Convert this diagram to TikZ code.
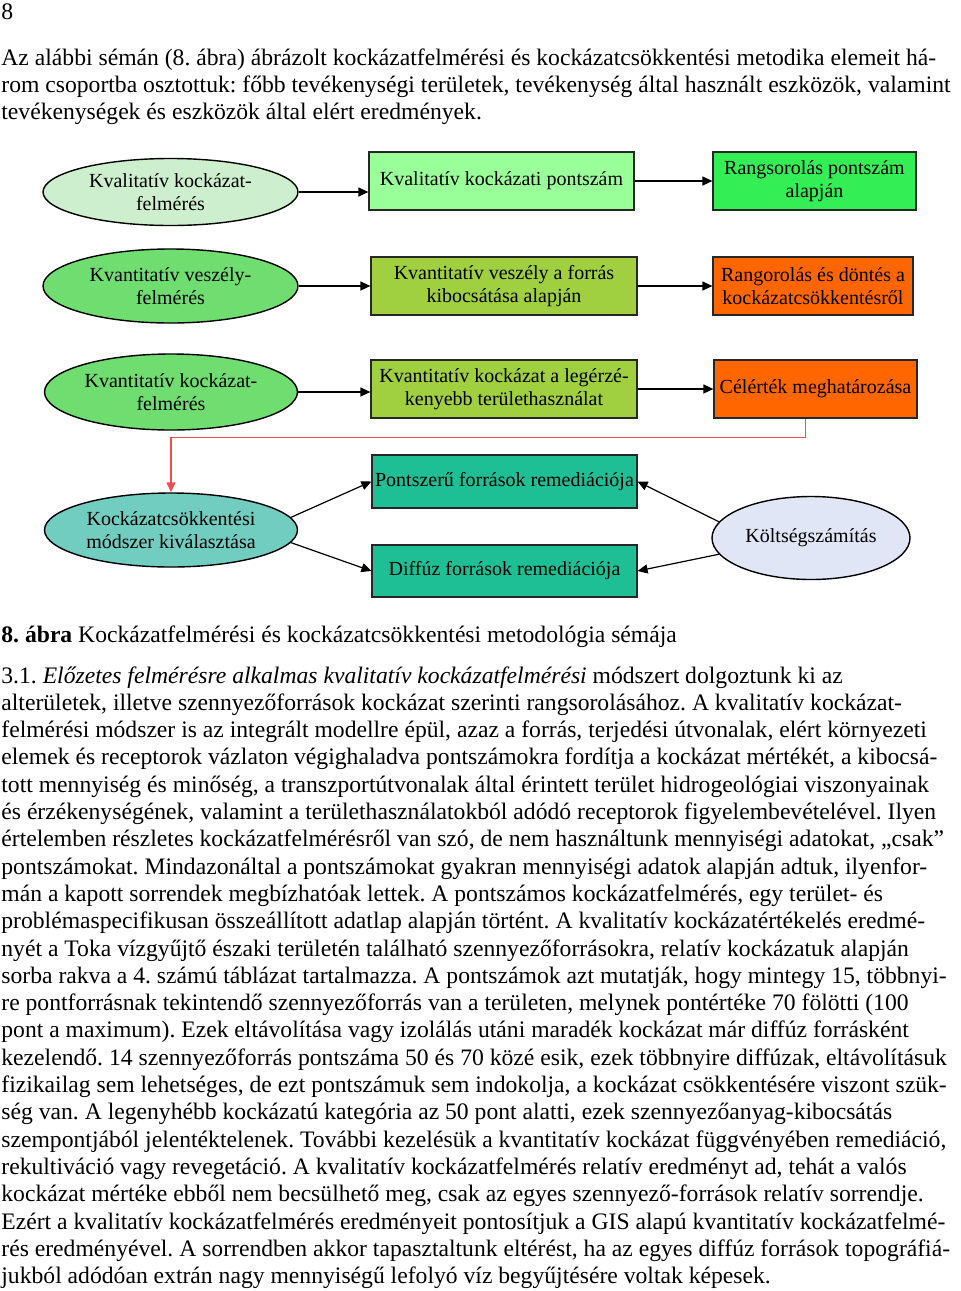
\documentclass[tikz,border=0pt]{standalone}
\usepackage{fontspec}
\setmainfont{Liberation Serif}
\usetikzlibrary{arrows.meta,shapes.geometric}
\newcommand\diagfont{\fontsize{10}{11.5}\selectfont}
\newcommand\bodyfont{\fontsize{11.82}{13.65}\selectfont\frenchspacing}
\definecolor{paleg}{HTML}{CDEFCD}
\definecolor{stripeg}{HTML}{70DD70}
\definecolor{lightg}{HTML}{99FF99}
\definecolor{brightg}{HTML}{33EE55}
\definecolor{yellowg}{HTML}{A0D040}
\definecolor{orng}{HTML}{FF6600}
\definecolor{tealb}{HTML}{1FBF95}
\definecolor{tealdot}{HTML}{70CDBF}
\definecolor{bluestripe}{HTML}{E0E6F5}
\definecolor{redline}{HTML}{F05050}
\begin{document}
\begin{tikzpicture}[x=0.5pt,y=-0.5pt,
  bx/.style={draw=black!85, line width=0.6pt, rectangle, minimum height=29pt, inner sep=1pt, align=center, font=\diagfont},
  el/.style={draw=black, line width=0.7pt, ellipse, inner sep=0pt, align=center, font=\diagfont},
  arr/.style={-{Triangle[length=5pt,width=4.5pt]}, line width=0.6pt},
  redarr/.style={-{Triangle[length=5pt,width=4.5pt]}, line width=0.7pt, draw=redline},
  txt/.style={anchor=base west, inner sep=0pt, font=\bodyfont}]
\useasboundingbox[fill=white] (0,0) rectangle (960,1291);

% page number and intro
\node[txt] (pg) at (1,19) {8};
\foreach \t [count=\i] in {
 {Az alábbi sémán (8. ábra) ábrázolt kockázatfelmérési és kockázatcsökkentési metodika elemeit há-},
 {rom csoportba osztottuk: főbb tevékenységi területek, tevékenység által használt eszközök, valamint},
 {tevékenységek és eszközök által elért eredmények.}}
 \node[txt] (h\i) at ({1},{65+27.2*(\i-1)}) {\t};

% diagram
\node[el, fill=paleg, minimum width=127.5pt, minimum height=33.5pt] (A1) at (170.5,192) {Kvalitatív kockázat-\\felmérés};
\node[el, fill=stripeg, minimum width=127.5pt, minimum height=37pt] (A2) at (170.5,286) {Kvantitatív veszély-\\felmérés};
\node[el, fill=stripeg, minimum width=126.5pt, minimum height=38pt] (A3) at (171,392) {Kvantitatív kockázat-\\felmérés};
\node[el, fill=tealdot, minimum width=126.5pt, minimum height=37pt] (A4) at (171,530) {Kockázatcsökkentési\\módszer kiválasztása};
\node[el, fill=bluestripe, minimum width=99pt, minimum height=41.5pt] (D) at (811,538) {Költségszámítás};

\node[bx, fill=lightg, minimum width=132.5pt] (B1) at (501.5,181) {Kvalitatív kockázati pontszám};
\node[bx, fill=brightg, minimum width=101.5pt] (C1) at (814.5,181) {Rangsorolás pontszám\\alapján};
\node[bx, fill=yellowg, minimum width=133pt] (B2) at (504,286) {Kvantitatív veszély a forrás\\kibocsátása alapján};
\node[bx, fill=orng, minimum width=100pt] (C2) at (813,286) {Rangorolás és döntés a\\kockázatcsökkentésről};
\node[bx, fill=yellowg, minimum width=133pt] (B3) at (504,389) {Kvantitatív kockázat a legérzé-\\kenyebb területhasználat};
\node[bx, fill=orng, minimum width=101.5pt] (C3) at (815.5,389) {Célérték meghatározása};
\node[bx, fill=tealb, minimum width=132.5pt, minimum height=26.5pt] (B4) at (504.5,481.5) {Pontszerű források remediációja};
\node[bx, fill=tealb, minimum width=132.5pt, minimum height=26pt] (B5) at (504.5,571) {Diffúz források remediációja};

\draw[arr] (A1.east) -- (A1.east -| B1.west);
\draw[arr] (B1.east) -- (C1.west);
\draw[arr] (A2.east) -- (B2.west);
\draw[arr] (B2.east) -- (C2.west);
\draw[arr] (A3.east) -- (A3.east -| B3.west);
\draw[arr] (B3.east) -- (C3.west);
\draw[redarr] ([xshift=-5pt]C3.south) -- ++(0,19) -| (A4.north);
\draw[arr] (A4.6) -- (B4.west);
\draw[arr] (A4.-6) -- (B5.west);
\draw[arr] (D.170) -- (B4.east);
\draw[arr] (D.190) -- (B5.east);

% caption
\node[txt] (cap) at (1,642) {\textbf{8. ábra} Kockázatfelmérési és kockázatcsökkentési metodológia sémája};

% body
\foreach \t [count=\i] in {
 {3.1. \textit{Előzetes felmérésre alkalmas kvalitatív kockázatfelmérési} módszert dolgoztunk ki az},
 {alterületek, illetve szennyezőforrások kockázat szerinti rangsorolásához. A kvalitatív kockázat-},
 {felmérési módszer is az integrált modellre épül, azaz a forrás, terjedési útvonalak, elért környezeti},
 {elemek és receptorok vázlaton végighaladva pontszámokra fordítja a kockázat mértékét, a kibocsá-},
 {tott mennyiség és minőség, a transzportútvonalak által érintett terület hidrogeológiai viszonyainak},
 {és érzékenységének, valamint a területhasználatokból adódó receptorok figyelembevételével. Ilyen},
 {értelemben részletes kockázatfelmérésről van szó, de nem használtunk mennyiségi adatokat, „csak”},
 {pontszámokat. Mindazonáltal a pontszámokat gyakran mennyiségi adatok alapján adtuk, ilyenfor-},
 {mán a kapott sorrendek megbízhatóak lettek. A pontszámos kockázatfelmérés, egy terület- és},
 {problémaspecifikusan összeállított adatlap alapján történt. A kvalitatív kockázatértékelés eredmé-},
 {nyét a Toka vízgyűjtő északi területén található szennyezőforrásokra, relatív kockázatuk alapján},
 {sorba rakva a 4. számú táblázat tartalmazza. A pontszámok azt mutatják, hogy mintegy 15, többnyi-},
 {re pontforrásnak tekintendő szennyezőforrás van a területen, melynek pontértéke 70 fölötti (100},
 {pont a maximum). Ezek eltávolítása vagy izolálás utáni maradék kockázat már diffúz forrásként},
 {kezelendő. 14 szennyezőforrás pontszáma 50 és 70 közé esik, ezek többnyire diffúzak, eltávolításuk},
 {fizikailag sem lehetséges, de ezt pontszámuk sem indokolja, a kockázat csökkentésére viszont szük-},
 {ség van. A legenyhébb kockázatú kategória az 50 pont alatti, ezek szennyezőanyag-kibocsátás},
 {szempontjából jelentéktelenek. További kezelésük a kvantitatív kockázat függvényében remediáció,},
 {rekultiváció vagy revegetáció. A kvalitatív kockázatfelmérés relatív eredményt ad, tehát a valós},
 {kockázat mértéke ebből nem becsülhető meg, csak az egyes szennyező-források relatív sorrendje.},
 {Ezért a kvalitatív kockázatfelmérés eredményeit pontosítjuk a GIS alapú kvantitatív kockázatfelmé-},
 {rés eredményével. A sorrendben akkor tapasztaltunk eltérést, ha az egyes diffúz források topográfiá-},
 {jukból adódóan extrán nagy mennyiségű lefolyó víz begyűjtésére voltak képesek.}}
 \node[txt] (b\i) at ({1},{683+27.3*(\i-1)}) {\t};
\end{tikzpicture}
\end{document}
